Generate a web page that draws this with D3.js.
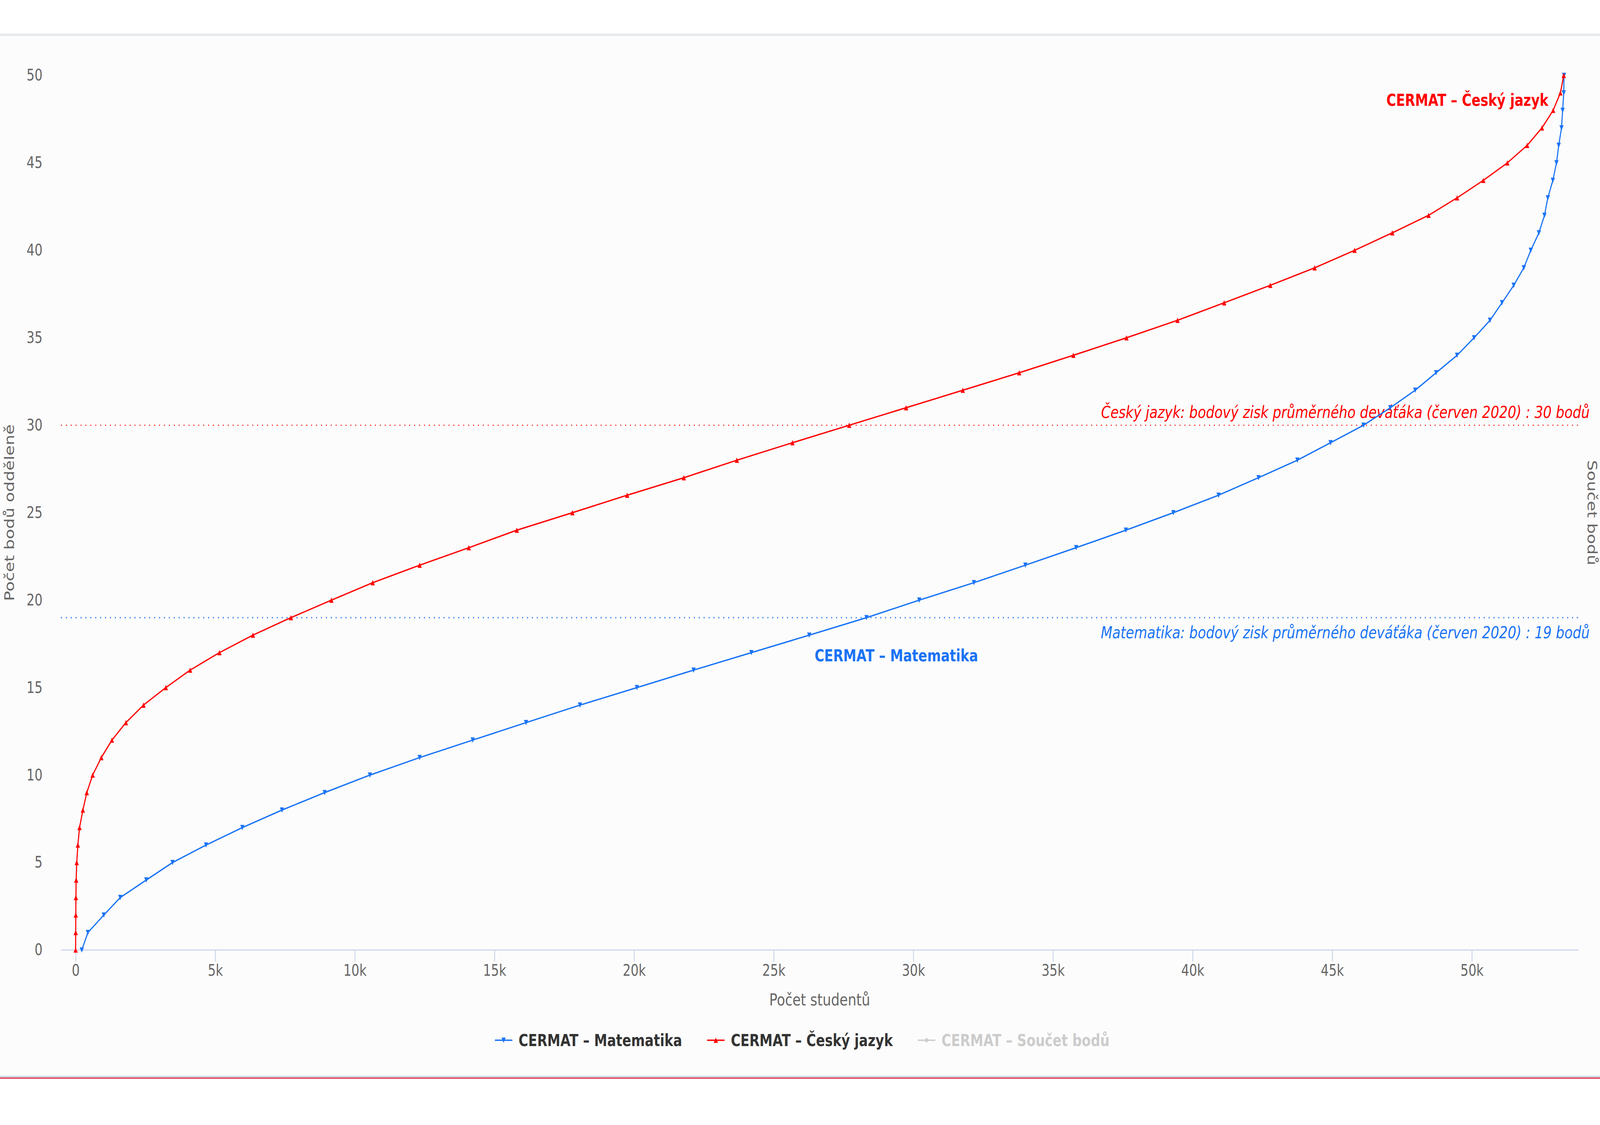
<!DOCTYPE html>
<html><head><meta charset="utf-8">
<script src="https://cdn.jsdelivr.net/npm/d3@7"></script>
<style>html,body{margin:0;padding:0;background:#fff;overflow:hidden;width:100vw;height:100vh;}svg{display:block;width:100vw;height:100vh;}</style>
</head><body>
<script>
// ---- data ----
const scores = d3.range(0, 51); // body 0..50
const matematika = [220, 440, 1010, 1600, 2530, 3470, 4670, 5970, 7390, 8920,
  10540, 12320, 14220, 16130, 18060, 20100, 22130, 24200, 26270, 28320,
  30210, 32170, 34010, 35830, 37610, 39310, 40930, 42360, 43750, 44940,
  46120, 47080, 47970, 48720, 49470, 50080, 50650, 51080, 51500, 51860,
  52110, 52400, 52600, 52720, 52900, 53030, 53110, 53210, 53250, 53290, 53300];
const ceskyJazyk = [0, 3, 6, 10, 20, 40, 80, 140, 260, 400,
  610, 920, 1300, 1800, 2430, 3230, 4100, 5150, 6350, 7710,
  9160, 10640, 12320, 14080, 15800, 17790, 19750, 21780, 23680, 25670,
  27700, 29740, 31770, 33790, 35730, 37630, 39460, 41130, 42780, 44370,
  45800, 47150, 48450, 49470, 50410, 51270, 51980, 52510, 52910, 53170, 53290];
const xTicks = [0, 5000, 10000, 15000, 20000, 25000, 30000, 35000, 40000, 45000, 50000];
const yTicks = [0, 5, 10, 15, 20, 25, 30, 35, 40, 45, 50];
const seriesNames = ["CERMAT – Matematika", "CERMAT – Český jazyk", "CERMAT – Součet bodů"];
const seriesColors = ["#1a73f5", "#ff0000", "#cccccc"];
const averageScores = [19, 30];
const averageLabels = [
  "Matematika: bodový zisk průměrného deváťáka (červen 2020) : 19 bodů",
  "Český jazyk: bodový zisk průměrného deváťáka (červen 2020) : 30 bodů"];
const xTitle = "Počet studentů";
const yTitle = "Počet bodů odděleně";
const y2Title = "Součet bodů";

// ---- setup ----
const W = 5120, H = 2880;
const FONT = "'DejaVu Sans', Verdana, sans-serif";
const plot = {left: 195, right: 5051, top: 193, bottom: 2432};
const x = d3.scaleLinear().domain([0, 50000]).range([242, 4710]);
const y = d3.scaleLinear().domain([0, 50]).range([plot.bottom, plot.top]);

const svg = d3.select("body").append("svg")
  .attr("viewBox", `0 0 ${W} ${H}`)
  .attr("preserveAspectRatio", "none")
  .style("font-family", FONT);

// background / frame
svg.append("rect").attr("x", 0).attr("y", 0).attr("width", W).attr("height", H).attr("fill", "#ffffff");
svg.append("rect").attr("x", 0).attr("y", 92).attr("width", W).attr("height", 2662).attr("fill", "#fcfcfc");
svg.append("rect").attr("x", 0).attr("y", 86).attr("width", W).attr("height", 6).attr("fill", "#e6eaee");
svg.append("rect").attr("x", 0).attr("y", 2754).attr("width", W).attr("height", 4).attr("fill", "#cfd9e4");
svg.append("rect").attr("x", 0).attr("y", 2758).attr("width", W).attr("height", 4).attr("fill", "#e0566e");

// ---- axes ----
const xAxis = d3.axisBottom(x).tickValues(xTicks)
  .tickFormat(d => d === 0 ? "0" : (d / 1000) + "k")
  .tickSize(30).tickPadding(8);
const gx = svg.append("g").attr("transform", `translate(0,${plot.bottom})`).call(xAxis);
gx.select(".domain").remove();
gx.selectAll(".tick line").attr("stroke", "#ccd6eb").attr("stroke-width", 3);
gx.selectAll(".tick text").attr("fill", "#666").style("font-size", "40px").style("font-family", FONT);
svg.append("line").attr("x1", plot.left).attr("x2", plot.right)
  .attr("y1", plot.bottom).attr("y2", plot.bottom)
  .attr("stroke", "#ccd6eb").attr("stroke-width", 3);

const yAxis = d3.axisLeft(y).tickValues(yTicks).tickSize(0).tickPadding(0);
const gy = svg.append("g").attr("transform", `translate(136,0)`).call(yAxis);
gy.select(".domain").remove();
gy.selectAll(".tick text").attr("fill", "#666").style("font-size", "40px").style("font-family", FONT);

// axis titles
svg.append("text").attr("x", (plot.left + plot.right) / 2).attr("y", 2574)
  .attr("text-anchor", "middle").attr("fill", "#666").style("font-size", "43px").text(xTitle);
svg.append("text").attr("transform", `translate(45,${(plot.top + plot.bottom) / 2}) rotate(-90)`)
  .attr("text-anchor", "middle").attr("fill", "#666").style("font-size", "43px").text(yTitle);
svg.append("text").attr("transform", `translate(5080,${(plot.top + plot.bottom) / 2}) rotate(90)`)
  .attr("text-anchor", "middle").attr("fill", "#666").style("font-size", "43px").text(y2Title);

// ---- plot lines (averages) ----
const avgColors = [seriesColors[0], seriesColors[1]];
averageScores.forEach((v, i) => {
  svg.append("line").attr("x1", plot.left).attr("x2", plot.right)
    .attr("y1", y(v)).attr("y2", y(v))
    .attr("stroke", avgColors[i]).attr("stroke-width", i === 0 ? 3.5 : 2.8)
    .attr("stroke-dasharray", "3 12.7");
});
svg.append("text").attr("x", 5087).attr("y", y(averageScores[0]) + 53)
  .attr("text-anchor", "end").attr("fill", avgColors[0]).style("font-style", "italic")
  .style("font-size", "43px").text(averageLabels[0]);
svg.append("text").attr("x", 5087).attr("y", y(averageScores[1]) - 19)
  .attr("text-anchor", "end").attr("fill", avgColors[1]).style("font-style", "italic")
  .style("font-size", "43px").text(averageLabels[1]);

// ---- series ----
const r = 6.8;
const triUp = (px, py) => `M${px},${py - r}L${px + r},${py + r}L${px - r},${py + r}Z`;
const triDown = (px, py) => `M${px - r},${py - r}L${px + r},${py - r}L${px},${py + r}Z`;
const series = [
  {name: seriesNames[0], color: seriesColors[0], values: matematika, marker: triDown},
  {name: seriesNames[1], color: seriesColors[1], values: ceskyJazyk, marker: triUp}
];
const line = d3.line().x(d => x(d[0])).y(d => y(d[1]));
series.forEach(s => {
  const pts = s.values.map((v, i) => [v, scores[i]]);
  const g = svg.append("g");
  g.append("path").attr("d", line(pts)).attr("fill", "none")
    .attr("stroke", s.color).attr("stroke-width", 3.5)
    .attr("stroke-linejoin", "round").attr("stroke-linecap", "round");
  g.selectAll("path.m").data(pts).join("path").attr("class", "m")
    .attr("d", d => s.marker(x(d[0]), y(d[1]))).attr("fill", s.color);
});

// series labels
svg.append("text").attr("x", x(29390)).attr("y", y(16.5))
  .attr("text-anchor", "middle").attr("fill", seriesColors[0])
  .style("font-weight", "bold").style("font-size", "42px").text(seriesNames[0]);
svg.append("text").attr("x", x(52740)).attr("y", y(48.26))
  .attr("text-anchor", "end").attr("fill", seriesColors[1])
  .style("font-weight", "bold").style("font-size", "42px").text(seriesNames[1]);

// ---- legend ----
const legend = svg.append("g");
const symW = 56, symGap = 20, itemGap = 80, legendY = 2663;
const markers = [triDown, triUp, (px, py) => `M${px},${py - r}L${px + r},${py}L${px},${py + r}L${px - r},${py}Z`];
const textColors = ["#333", "#333", "#cccccc"];
let cx = 0;
seriesNames.forEach((n, i) => {
  const g = legend.append("g");
  g.append("line").attr("x1", cx).attr("x2", cx + symW).attr("y1", legendY).attr("y2", legendY)
    .attr("stroke", seriesColors[i]).attr("stroke-width", 3.5);
  g.append("path").attr("d", markers[i](cx + symW / 2, legendY)).attr("fill", seriesColors[i]);
  const t = g.append("text").attr("x", cx + symW + symGap).attr("y", legendY + 15)
    .attr("fill", textColors[i]).style("font-weight", "bold").style("font-size", "42px").text(n);
  const w = t.node().getComputedTextLength();
  cx += symW + symGap + w + itemGap;
});
const total = cx - itemGap;
legend.attr("transform", `translate(${2567 - total / 2},0)`);
</script>
</body></html>
